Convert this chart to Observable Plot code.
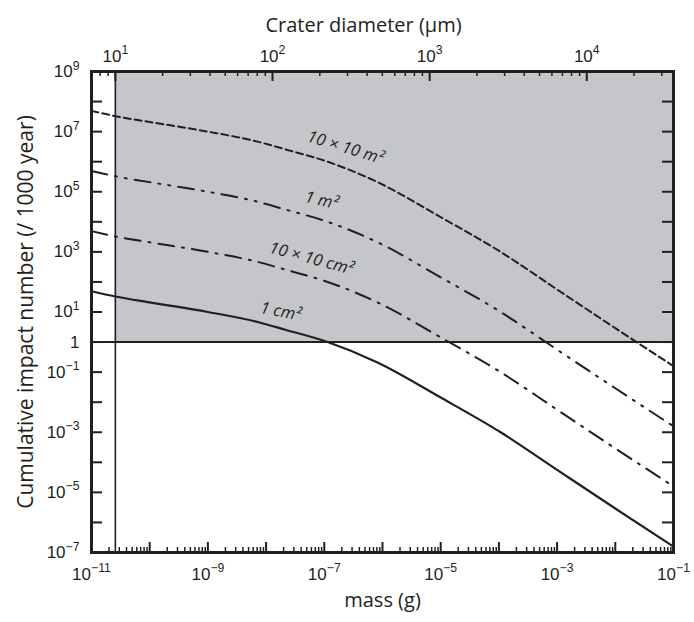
<!DOCTYPE html>
<html><head><meta charset="utf-8">
<script src="https://cdn.jsdelivr.net/npm/d3@7"></script>
<script src="https://cdn.jsdelivr.net/npm/@observablehq/plot@0.6"></script>
<style>body{margin:0;background:#fff}</style>
</head><body><div id="chart"></div>
<script>
// ---- data ----
const massG = [1e-11, 2.57e-11, 1e-10, 1e-9, 7.4e-9, 2.14e-8, 1.14e-7, 8.2e-7, 1e-5, 1.07e-4, 1e-3, 1e-2, 1e-1];
const impacts1cm2    = [49, 32.7, 20.9, 10, 4.57, 2.57, 1.0, 0.209, 0.0143, 1.0e-3, 5.6e-5, 2.9e-6, 1.58e-7];
const impacts10x10cm2 = [4900, 3270, 2090, 1000, 457, 257, 100, 20.9, 1.43, 0.1, 5.6e-3, 2.9e-4, 1.58e-5];
const impacts1m2     = [4.9e5, 3.27e5, 2.09e5, 1e5, 4.57e4, 2.57e4, 1e4, 2090, 143, 10, 0.56, 0.029, 1.58e-3];
const impacts10x10m2 = [4.9e7, 3.27e7, 2.09e7, 1e7, 4.57e6, 2.57e6, 1e6, 2.09e5, 1.43e4, 1000, 56, 2.9, 0.158];
const seriesNames = ["1 cm²", "10 × 10 cm²", "1 m²", "10 × 10 m²"];

const detectionMass = 2.57e-11;     // g  (vertical line, crater 10 µm)
const detectionLevel = 1;           // impacts / 1000 year
const craterRefDiameter = 10;       // µm at detectionMass
const massDecadesPerCraterDecade = 2.70;

const yLabelExp = [9, 7, 5, 3, 1, 0, -1, -3, -5, -7];
const xLabelExp = [-11, -9, -7, -5, -3, -1];
const craterLabelExp = [1, 2, 3, 4];
const craterMinor = [8, 9, 20, 30, 40, 50, 60, 70, 80, 90, 200, 300, 400, 500, 600, 700, 800, 900,
  2000, 3000, 4000, 5000, 6000, 7000, 8000, 9000, 20000, 30000];

// ---- derived tables ----
const seriesValues = [impacts1cm2, impacts10x10cm2, impacts1m2, impacts10x10m2];
const rows = seriesNames.map((s, i) => massG.map((m, j) => ({series: s, mass: m, n: seriesValues[i][j]})));
const diamToMass = d => detectionMass * Math.pow(d / craterRefDiameter, massDecadesPerCraterDecade);
const expText = e => e === 0 ? "1" : "10^" + (e < 0 ? "−" + (-e) : e);

const xMajor = d3.range(-11, 0).map(e => Math.pow(10, e));
const xMinor = d3.range(-11, -1).flatMap(e => d3.range(2, 10).map(k => k * Math.pow(10, e)));
const yMajor = d3.range(-7, 10).map(e => Math.pow(10, e));

const W = 694, H = 622, mL = 91, mR = 21, mT = 71, mB = 70;
const iW = W - mL - mR, iH = H - mT - mB;
const ink = "#231f20";
const tickFont = "'Liberation Sans Narrow', 'Liberation Sans', Arial, sans-serif";
const titleFont = "'Open Sans', 'Noto Sans', sans-serif";

const labelSpots = [
  {label: "10 × 10 m²", m: 2.31e-7, n: 2.95e6, r: 17},
  {label: "1 m²", m: 8.95e-8, n: 5.13e4, r: 13},
  {label: "10 × 10 cm²", m: 6.0e-8, n: 603, r: 15},
  {label: "1 cm²", m: 1.77e-8, n: 10.4, r: 11}
];
const dashes = [null, "16,8,2,8", "16,8,2,8,2,8", "7,4"];

const svg = Plot.plot({
  width: W, height: H,
  marginLeft: mL, marginRight: mR, marginTop: mT, marginBottom: mB,
  x: {type: "log", domain: [1e-11, 1e-1], axis: null},
  y: {type: "log", domain: [1e-7, 1e9], axis: null},
  style: {background: "white", color: ink},
  marks: [
    Plot.rect([{x1: detectionMass, x2: 1e-1, y1: detectionLevel, y2: 1e9}],
      {x1: "x1", x2: "x2", y1: "y1", y2: "y2", fill: "#c5c6ca"}),
    Plot.ruleY([detectionLevel], {stroke: ink, strokeWidth: 2}),
    Plot.ruleX([detectionMass], {stroke: ink, strokeWidth: 1.6}),
    ...rows.map((r, i) => Plot.line(r, {x: "mass", y: "n", stroke: ink, curve: "monotone-x",
      strokeWidth: i === 0 ? 2.2 : 2, strokeDasharray: dashes[i], clip: true})),
    // ticks
    Plot.tickY(yMajor, {y: d => d, insetRight: iW - 11, stroke: ink, strokeWidth: 2}),
    Plot.tickY(yMajor, {y: d => d, insetLeft: iW - 11, stroke: ink, strokeWidth: 2}),
    Plot.tickX(xMajor, {x: d => d, insetTop: iH - 10, stroke: ink, strokeWidth: 2}),
    Plot.tickX(xMinor, {x: d => d, insetTop: iH - 5, stroke: ink, strokeWidth: 1.5}),
    Plot.tickX(craterLabelExp.map(e => Math.pow(10, e)), {x: diamToMass, insetBottom: iH - 10, stroke: ink, strokeWidth: 2}),
    Plot.tickX(craterMinor, {x: diamToMass, insetBottom: iH - 5, stroke: ink, strokeWidth: 1.5}),
    Plot.frame({stroke: ink, strokeWidth: 3}),
    // tick labels
    Plot.text(yLabelExp, {y: e => Math.pow(10, e), text: expText, frameAnchor: "left", dx: -12,
      textAnchor: "end", fontSize: 17, fontFamily: tickFont, fill: ink}),
    Plot.text(xLabelExp, {x: e => Math.pow(10, e), text: expText, frameAnchor: "bottom", dy: 27,
      fontSize: 17, fontFamily: tickFont, fill: ink}),
    Plot.text(craterLabelExp, {x: e => diamToMass(Math.pow(10, e)), text: expText, frameAnchor: "top", dy: -22,
      fontSize: 17, fontFamily: tickFont, fill: ink}),
    // curve labels
    Plot.text(labelSpots, {x: "m", y: "n", text: "label", rotate: "r", fontSize: 16.5, fontStyle: "italic",
      fontFamily: titleFont, fill: ink}),
    // titles
    Plot.text(["Crater diameter (µm)"], {frameAnchor: "top", dx: -19, dy: -54, fontSize: 20, fontFamily: titleFont, fill: ink}),
    Plot.text(["mass (g)"], {frameAnchor: "bottom", dy: 54, fontSize: 20, fontFamily: titleFont, fill: ink}),
    Plot.text(["Cumulative impact number (/ 1000 year)"], {frameAnchor: "left", textAnchor: "middle", dx: -65, rotate: -90,
      fontSize: 21, fontFamily: titleFont, fill: ink})
  ]
});

d3.select(svg).selectAll("text").each(function () {
  if (this.querySelector("tspan")) return;
  const s = this.textContent, i = s.indexOf("^");
  if (i < 0) return;
  this.textContent = "";
  d3.select(this).append("tspan").text(s.slice(0, i));
  d3.select(this).append("tspan").attr("dy", "-0.6em").attr("font-size", "72%").text(s.slice(i + 1));
});

document.getElementById("chart").appendChild(svg);
</script>
</body></html>
